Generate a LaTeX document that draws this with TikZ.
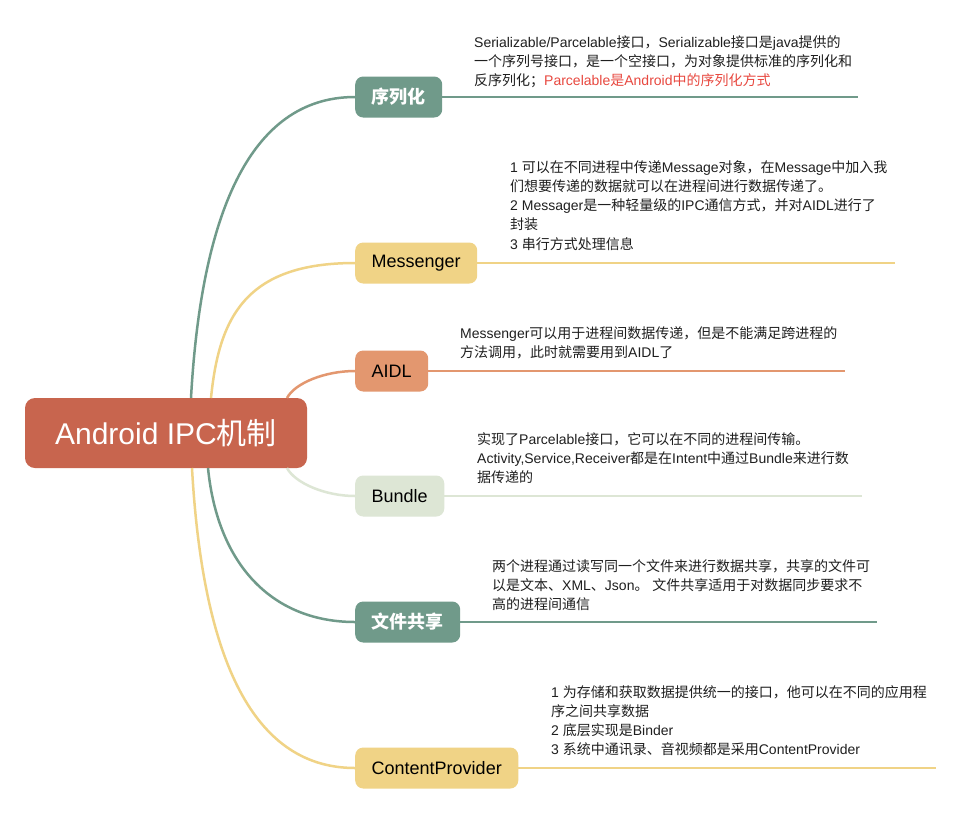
\documentclass[tikz,border=0pt]{standalone}
\usepackage{fontspec}
\usepackage{xcolor}
\setmainfont{Liberation Sans}
\newfontfamily\cjkfont{Noto Sans CJK SC}
% switch to the CJK font for Chinese characters
\XeTeXinterchartokenstate=1
\newXeTeXintercharclass\cjkclass
\newcount\cjkcnt
\cjkcnt="4E00
\loop\ifnum\cjkcnt<"A000 \XeTeXcharclass\cjkcnt=\cjkclass \advance\cjkcnt by 1 \repeat
\XeTeXcharclass"3001=\cjkclass
\XeTeXcharclass"3002=\cjkclass
\XeTeXcharclass"FF0C=\cjkclass
\XeTeXcharclass"FF1B=\cjkclass
\XeTeXinterchartoks 0 \cjkclass={\cjkfont}
\XeTeXinterchartoks 4095 \cjkclass={\cjkfont}
\XeTeXinterchartoks \cjkclass 0={\rmfamily}
\XeTeXinterchartoks \cjkclass 4095={\rmfamily}
\usetikzlibrary{positioning}
\definecolor{rootred}{HTML}{C8654E}
\definecolor{mapteal}{HTML}{709A8A}
\definecolor{mapyellow}{HTML}{F0D386}
\definecolor{maporange}{HTML}{E3976F}
\definecolor{mapgreen}{HTML}{DDE6D5}
\definecolor{mapred}{HTML}{E8483F}

\begin{document}
\begin{tikzpicture}[x=1pt,y=-1pt,
  topic/.style={anchor=west,rounded corners=8pt,minimum height=41pt,inner xsep=16.5pt,font=\fontsize{18}{20}\selectfont},
  desc/.style={anchor=north west,inner sep=0pt,align=left,text=black!88,font=\fontsize{14}{19.3}\selectfont},
  branch/.style={line width=2.5pt},
  tail/.style={line width=2pt}]
\useasboundingbox[fill=white](0,0) rectangle (961,815);
% root and topics
\node[fill=rootred,text=white,rounded corners=10pt,minimum width=282pt,minimum height=70pt,font=\fontsize{30}{32}\selectfont](root)at(166,433){Android IPC机制};
\node[topic,fill=mapteal,text=white,font=\bfseries\fontsize{18}{20}\selectfont](xlh)at(355,97){序列化};
\node[topic,fill=mapyellow](msg)at(355,263){Messenger};
\node[topic,fill=maporange](aidl)at(355,371){AIDL};
\node[topic,fill=mapgreen](bdl)at(355,496){Bundle};
\node[topic,fill=mapteal,text=white,font=\bfseries\fontsize{18}{20}\selectfont](wjgx)at(355,622){文件共享};
\node[topic,fill=mapyellow](cp)at(355,768){ContentProvider};
% branch start points on the root
\coordinate(r1)at(191,398);
\coordinate(r2)at(211,398);
\coordinate(r3)at(287,398);
\coordinate(r4)at(287,468);
\coordinate(r5)at(208,468);
\coordinate(r6)at(192,468);
\draw[branch,mapteal](r1)..controls +(10,-180) and +(-107,0)..(xlh.west);
\draw[branch,mapyellow](r2)..controls +(8,-80) and +(-110,0)..(msg.west);
\draw[branch,maporange](r3)..controls +(8,-15) and +(-30,0)..(aidl.west);
\draw[branch,mapgreen](r4)..controls +(8,15) and +(-30,0)..(bdl.west);
\draw[branch,mapteal](r5)..controls +(10,100) and +(-80,0)..(wjgx.west);
\draw[branch,mapyellow](r6)..controls +(10,180) and +(-107,0)..(cp.west);
% tails
\coordinate(t1)at(858,97);
\coordinate(t2)at(895,263);
\coordinate(t3)at(845,371);
\coordinate(t4)at(862,496);
\coordinate(t5)at(877,622);
\coordinate(t6)at(936,768);
\draw[tail,mapteal](xlh.east)--(t1);
\draw[tail,mapyellow](msg.east)--(t2);
\draw[tail,maporange](aidl.east)--(t3);
\draw[tail,mapgreen](bdl.east)--(t4);
\draw[tail,mapteal](wjgx.east)--(t5);
\draw[tail,mapyellow](cp.east)--(t6);
% notes
\node[desc](d1)at(474,35){Serializable/Parcelable接口，Serializable接口是java提供的\\一个序列号接口，是一个空接口，为对象提供标准的序列化和\\反序列化；\textcolor{mapred}{Parcelable是Android中的序列化方式}};
\node[desc](d2)at(510,160){1 可以在不同进程中传递Message对象，在Message中加入我\\们想要传递的数据就可以在进程间进行数据传递了。\\2 Messager是一种轻量级的IPC通信方式，并对AIDL进行了\\封装\\3 串行方式处理信息};
\node[desc](d3)at(460,326){Messenger可以用于进程间数据传递，但是不能满足跨进程的\\方法调用，此时就需要用到AIDL了};
\node[desc](d4)at(477,432){实现了Parcelable接口，它可以在不同的进程间传输。\\Activity,Service,Receiver都是在Intent中通过Bundle来进行数\\据传递的};
\node[desc](d5)at(492,559){两个进程通过读写同一个文件来进行数据共享，共享的文件可\\以是文本、XML、Json。 文件共享适用于对数据同步要求不\\高的进程间通信};
\node[desc](d6)at(551,685){1 为存储和获取数据提供统一的接口，他可以在不同的应用程\\序之间共享数据\\2 底层实现是Binder\\3 系统中通讯录、音视频都是采用ContentProvider};
\end{tikzpicture}
\end{document}
